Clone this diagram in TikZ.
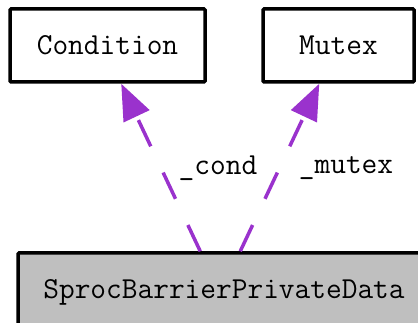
\documentclass[tikz,border=0pt]{standalone}
\usetikzlibrary{arrows.meta}
\definecolor{edgepurple}{RGB}{154,50,205}
\definecolor{boxgray}{RGB}{191,191,191}
\tikzset{
  classbox/.style={draw=black, line width=3.5pt, rounded corners=1pt, inner sep=0pt,
    minimum height=73pt, font=\fontsize{30.5}{32}\selectfont\ttfamily},
  usage/.style={edgepurple, line width=3.5pt, dash pattern=on 29pt off 29pt,
    -{Triangle[length=36pt,width=28pt]}},
  edgelabel/.style={font=\fontsize{30.5}{32}\selectfont\ttfamily, inner sep=0pt}
}
\begin{document}
\begin{tikzpicture}[x=1pt,y=-1pt]
            \useasboundingbox (0,0) rectangle (418,323);
            \clip (0,0) rectangle (418,323);
            \node[classbox, minimum width=195pt] (cond) at (107.5,45.5) {Condition};
            \node[classbox, minimum width=151pt] (mutex) at (338.5,45.5) {Mutex};
            \node[classbox, fill=boxgray, minimum width=412pt, minimum height=78pt] (sbpd) at (224,292) {SprocBarrierPrivateData};

            \draw[usage] ([xshift=184pt]sbpd.north west) -- ([xshift=113pt]cond.south west);
            \draw[usage] ([xshift=224pt]sbpd.north west) -- ([xshift=58pt]mutex.south west);

            \node[edgelabel] (condlbl) at (218,168) {\_cond};
            \node[edgelabel] (mutexlbl) at (346,168) {\_mutex};
        \end{tikzpicture}
\end{document}
